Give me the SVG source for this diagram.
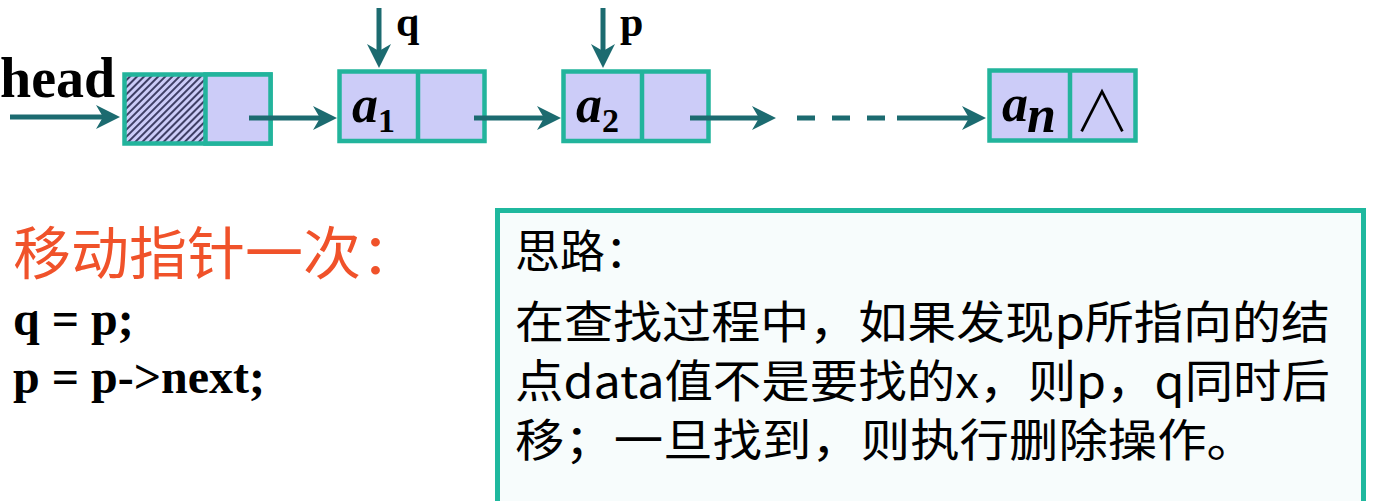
<svg xmlns="http://www.w3.org/2000/svg" width="1374" height="501" viewBox="0 0 1374 501">
<style>
.cell{fill:#CCCCF8;stroke:#22B49C;stroke-width:4.5}
.div{stroke:#22B49C;stroke-width:4.5}
.conn{stroke:#1C6B70;stroke-width:5;fill:none}
.arr{marker-end:url(#ah)}
.lbl{font-family:"Liberation Serif","Times New Roman",serif;font-weight:bold;fill:#000}
.ai{font-family:"Liberation Serif","Times New Roman",serif;font-weight:bold;font-style:italic;font-size:52px;fill:#000}
.sub{font-family:"Liberation Serif","Times New Roman",serif;font-weight:bold;font-size:34px;fill:#000}
.cjk{font-family:"Noto Sans CJK SC",sans-serif;font-size:45px;fill:#000}
</style>
<defs>
<marker id="ah" markerUnits="userSpaceOnUse" viewBox="0 0 24 24" markerWidth="24" markerHeight="24" refX="10" refY="12" orient="auto">
<path d="M0,0 L24,12 L0,24 L7,12 Z" fill="#1C6B70"/>
</marker>
<pattern id="hatch" width="5" height="5" patternUnits="userSpaceOnUse" patternTransform="rotate(45)">
<rect width="5" height="5" fill="#CCCCF8"/>
<line x1="1" y1="0" x2="1" y2="5" stroke="#1A1A40" stroke-width="1.6"/>
</pattern>
</defs>
<rect width="1374" height="501" fill="#FFFFFF"/>

<g id="head-label">
<text class="lbl" x="0" y="97" font-size="56">head</text>
</g>

<g id="node-head">
<rect x="124.5" y="74.5" width="81" height="69" fill="url(#hatch)"/>
<rect x="124.5" y="74.5" width="146" height="69" fill="none" stroke="#22B49C" stroke-width="4.5"/>
<rect x="205.5" y="74.5" width="65" height="69" class="cell"/>
</g>

<g id="node-a1">
<rect class="cell" x="339.5" y="71.5" width="145" height="69.5"/>
<line class="div" x1="418" y1="71.5" x2="418" y2="141"/>
<text class="ai" x="352" y="122">a</text>
<text class="sub" x="378" y="132">1</text>
</g>

<g id="node-a2">
<rect class="cell" x="563.5" y="71.5" width="145" height="69.5"/>
<line class="div" x1="642" y1="71.5" x2="642" y2="141"/>
<text class="ai" x="576" y="122">a</text>
<text class="sub" x="602" y="132">2</text>
</g>

<g id="node-an">
<rect class="cell" x="989.5" y="70.5" width="146" height="70"/>
<line class="div" x1="1070" y1="70.5" x2="1070" y2="140.5"/>
<text class="ai" x="1002" y="121">a</text>
<text class="ai" x="1027" y="132" font-size="32">n</text>
<text x="1102" y="131" font-family="Noto Sans CJK SC,sans-serif" font-weight="300" font-size="56" text-anchor="middle" fill="#000">∧</text>
</g>

<g id="pointer-q">
<text class="lbl" x="396" y="36" font-size="42">q</text>
</g>
<g id="pointer-p">
<text class="lbl" x="620" y="36" font-size="42">p</text>
</g>

<g id="connectors">
<line class="conn arr" x1="10" y1="117" x2="106" y2="117"/>
<line class="conn arr" x1="249" y1="118" x2="323" y2="118"/>
<line class="conn arr" x1="474" y1="118" x2="547" y2="118"/>
<line class="conn arr" x1="690" y1="118" x2="762" y2="118"/>
<line class="conn" x1="797" y1="118" x2="885" y2="118" stroke-dasharray="18 17"/>
<line class="conn arr" x1="897" y1="118" x2="972" y2="118"/>
<line class="conn arr" x1="379" y1="8" x2="379" y2="54"/>
<line class="conn arr" x1="603" y1="8" x2="603" y2="54"/>
</g>

<g id="move-pointer">
<text x="13" y="274" font-family="Noto Sans CJK SC,sans-serif" font-size="57" fill="#F0522A" textLength="406" lengthAdjust="spacingAndGlyphs">移动指针一次：</text>
<text class="lbl" x="13" y="335" font-size="48">q = p;</text>
<text class="lbl" x="13" y="393" font-size="48">p = p-&gt;next;</text>
</g>

<g id="idea-box">
<rect x="497.5" y="210.5" width="866" height="300" fill="#F7FCFC" stroke="#1FB89E" stroke-width="5"/>
<text class="cjk" x="515" y="268">思路：</text>
<text class="cjk" x="515" y="339" textLength="815" lengthAdjust="spacingAndGlyphs">在查找过程中，如果发现p所指向的结</text>
<text class="cjk" x="515" y="398" textLength="815" lengthAdjust="spacingAndGlyphs">点data值不是要找的x，则p，q同时后</text>
<text class="cjk" x="515" y="457" textLength="741" lengthAdjust="spacingAndGlyphs">移；一旦找到，则执行删除操作。</text>
</g>
</svg>
